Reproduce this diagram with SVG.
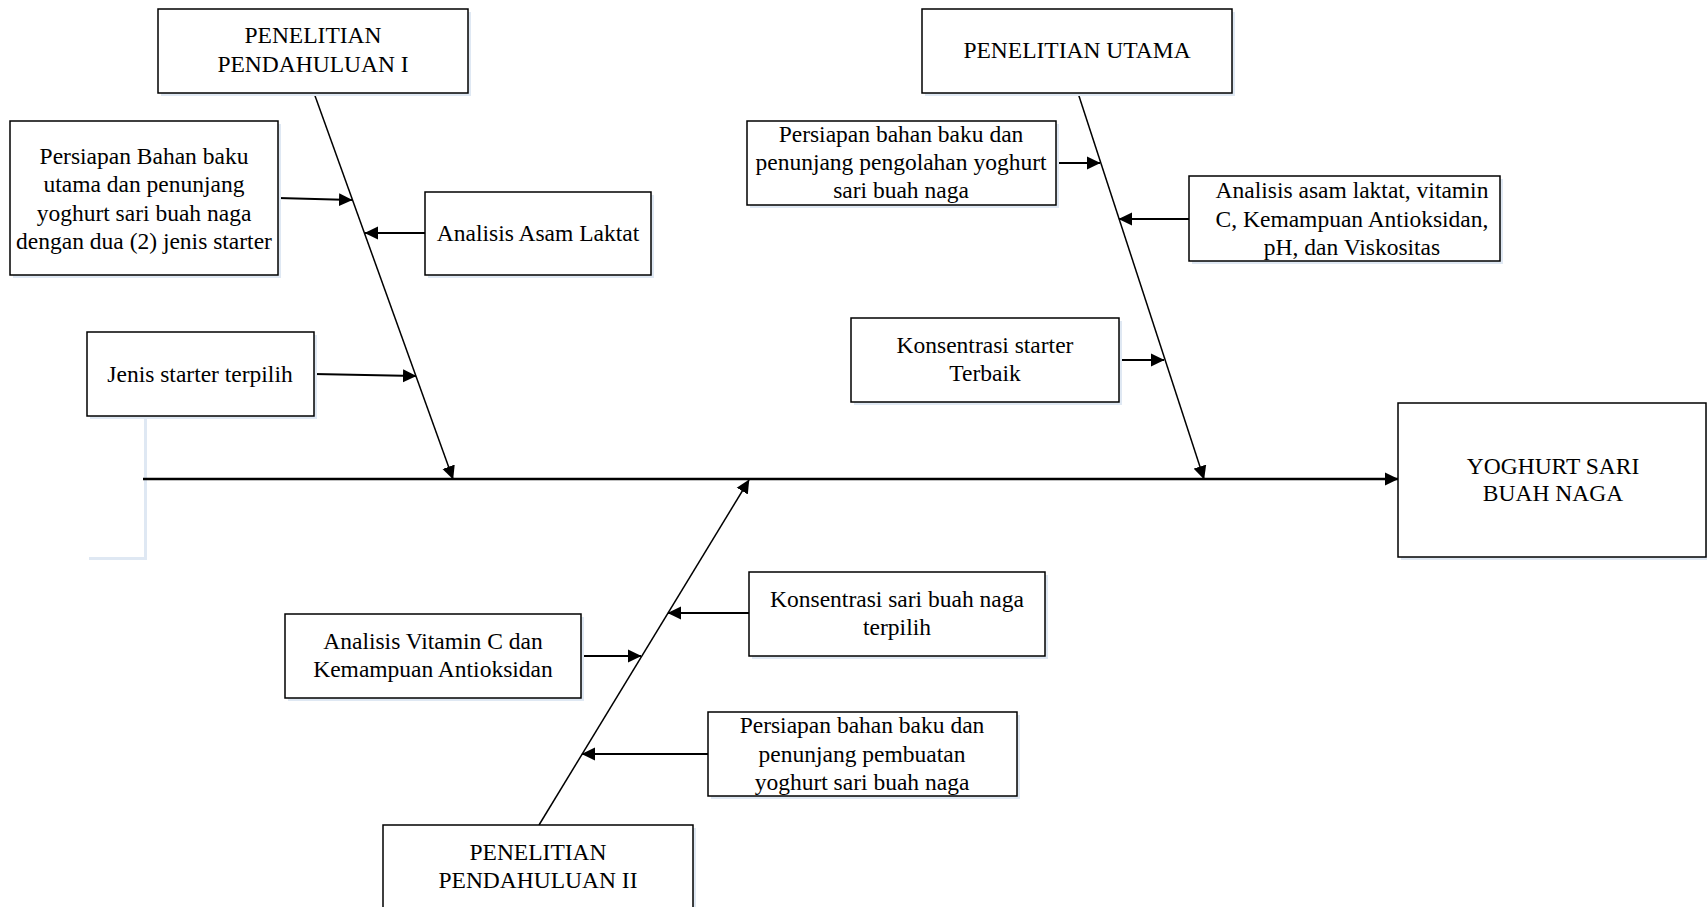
<svg xmlns="http://www.w3.org/2000/svg" width="1707" height="907" viewBox="0 0 1707 907">
<style>
.box{fill:#ffffff;stroke:#000000;stroke-width:1.5}
.sh{fill:#dfe8f3}
.t{font-family:"Liberation Serif","Times New Roman",serif;font-size:23.5px;fill:#000000;text-anchor:middle}
.bone{stroke:#000000;stroke-width:1.5;fill:none}
.spine{stroke:#000000;stroke-width:2.5;fill:none}
.br{stroke:#000000;stroke-width:2;fill:none}
</style>
<defs>
<marker id="ah" markerUnits="userSpaceOnUse" markerWidth="14" markerHeight="14" refX="13" refY="7" orient="auto">
<path d="M0,0.5 L13.5,7 L0,13.5 z" fill="#000000"/>
</marker>
</defs>
<rect width="1707" height="907" fill="#ffffff"/>

<g id="ghost">
<rect x="89" y="418" width="58" height="142" class="sh"/>
<rect x="87" y="416" width="57" height="141" fill="#ffffff"/>
</g>

<g id="connectors">
<line class="spine" x1="143" y1="479" x2="1398" y2="479" marker-end="url(#ah)"/>
<line class="bone" x1="314" y1="93" x2="453" y2="479" marker-end="url(#ah)"/>
<line class="bone" x1="1078" y1="93" x2="1204" y2="479" marker-end="url(#ah)"/>
<line class="bone" x1="539" y1="825" x2="749" y2="480" marker-end="url(#ah)"/>
<line class="br" x1="278" y1="198" x2="352" y2="200" marker-end="url(#ah)"/>
<line class="br" x1="425" y1="233" x2="365" y2="233" marker-end="url(#ah)"/>
<line class="br" x1="314" y1="374" x2="416" y2="376" marker-end="url(#ah)"/>
<line class="br" x1="1056" y1="163" x2="1100" y2="163" marker-end="url(#ah)"/>
<line class="br" x1="1189" y1="219" x2="1119" y2="219" marker-end="url(#ah)"/>
<line class="br" x1="1119" y1="360" x2="1164" y2="360" marker-end="url(#ah)"/>
<line class="br" x1="749" y1="613" x2="668" y2="613" marker-end="url(#ah)"/>
<line class="br" x1="581" y1="656" x2="641" y2="656" marker-end="url(#ah)"/>
<line class="br" x1="708" y1="754" x2="582" y2="754" marker-end="url(#ah)"/>
</g>

<g id="pendahuluan1">
<rect x="161" y="12" width="310" height="84" class="sh"/>
<rect x="158" y="9" width="310" height="84" class="box"/>
<text class="t" x="313" y="43">PENELITIAN</text>
<text class="t" x="313" y="72">PENDAHULUAN I</text>
</g>

<g id="persiapan1">
<rect x="13" y="124" width="268" height="154" class="sh"/>
<rect x="10" y="121" width="268" height="154" class="box"/>
<text class="t" x="144" y="164">Persiapan Bahan baku</text>
<text class="t" x="144" y="192">utama dan penunjang</text>
<text class="t" x="144" y="221">yoghurt sari buah naga</text>
<text class="t" x="144" y="249">dengan dua (2) jenis starter</text>
</g>

<g id="analisis1">
<rect x="428" y="195" width="226" height="83" class="sh"/>
<rect x="425" y="192" width="226" height="83" class="box"/>
<text class="t" x="538" y="241">Analisis Asam Laktat</text>
</g>

<g id="jenis">
<rect x="90" y="335" width="227" height="84" class="sh"/>
<rect x="87" y="332" width="227" height="84" class="box"/>
<text class="t" x="200" y="382">Jenis starter terpilih</text>
</g>

<g id="utama">
<rect x="925" y="12" width="310" height="84" class="sh"/>
<rect x="922" y="9" width="310" height="84" class="box"/>
<text class="t" x="1077" y="58">PENELITIAN UTAMA</text>
</g>

<g id="persiapan2">
<rect x="750" y="124" width="309" height="84" class="sh"/>
<rect x="747" y="121" width="309" height="84" class="box"/>
<text class="t" x="901" y="142">Persiapan bahan baku dan</text>
<text class="t" x="901" y="170">penunjang pengolahan yoghurt</text>
<text class="t" x="901" y="198">sari buah naga</text>
</g>

<g id="analisis2">
<rect x="1192" y="179" width="311" height="85" class="sh"/>
<rect x="1189" y="176" width="311" height="85" class="box"/>
<text class="t" x="1352" y="198">Analisis asam laktat, vitamin</text>
<text class="t" x="1352" y="227">C, Kemampuan Antioksidan,</text>
<text class="t" x="1352" y="255">pH, dan Viskositas</text>
</g>

<g id="konsentrasi1">
<rect x="854" y="321" width="268" height="84" class="sh"/>
<rect x="851" y="318" width="268" height="84" class="box"/>
<text class="t" x="985" y="353">Konsentrasi starter</text>
<text class="t" x="985" y="381">Terbaik</text>
</g>

<g id="yoghurt">
<rect x="1401" y="406" width="306" height="154" class="sh"/>
<rect x="1398" y="403" width="308" height="154" class="box"/>
<text class="t" x="1553" y="474">YOGHURT SARI</text>
<text class="t" x="1553" y="501">BUAH NAGA</text>
</g>

<g id="konsentrasi2">
<rect x="752" y="575" width="296" height="84" class="sh"/>
<rect x="749" y="572" width="296" height="84" class="box"/>
<text class="t" x="897" y="607">Konsentrasi sari buah naga</text>
<text class="t" x="897" y="635">terpilih</text>
</g>

<g id="analisis3">
<rect x="288" y="617" width="296" height="84" class="sh"/>
<rect x="285" y="614" width="296" height="84" class="box"/>
<text class="t" x="433" y="649">Analisis Vitamin C dan</text>
<text class="t" x="433" y="677">Kemampuan Antioksidan</text>
</g>

<g id="persiapan3">
<rect x="711" y="715" width="309" height="84" class="sh"/>
<rect x="708" y="712" width="309" height="84" class="box"/>
<text class="t" x="862" y="733">Persiapan bahan baku dan</text>
<text class="t" x="862" y="762">penunjang pembuatan</text>
<text class="t" x="862" y="790">yoghurt sari buah naga</text>
</g>

<g id="pendahuluan2">
<rect x="386" y="828" width="310" height="90" class="sh"/>
<rect x="383" y="825" width="310" height="90" class="box"/>
<text class="t" x="538" y="860">PENELITIAN</text>
<text class="t" x="538" y="888">PENDAHULUAN II</text>
</g>
</svg>
